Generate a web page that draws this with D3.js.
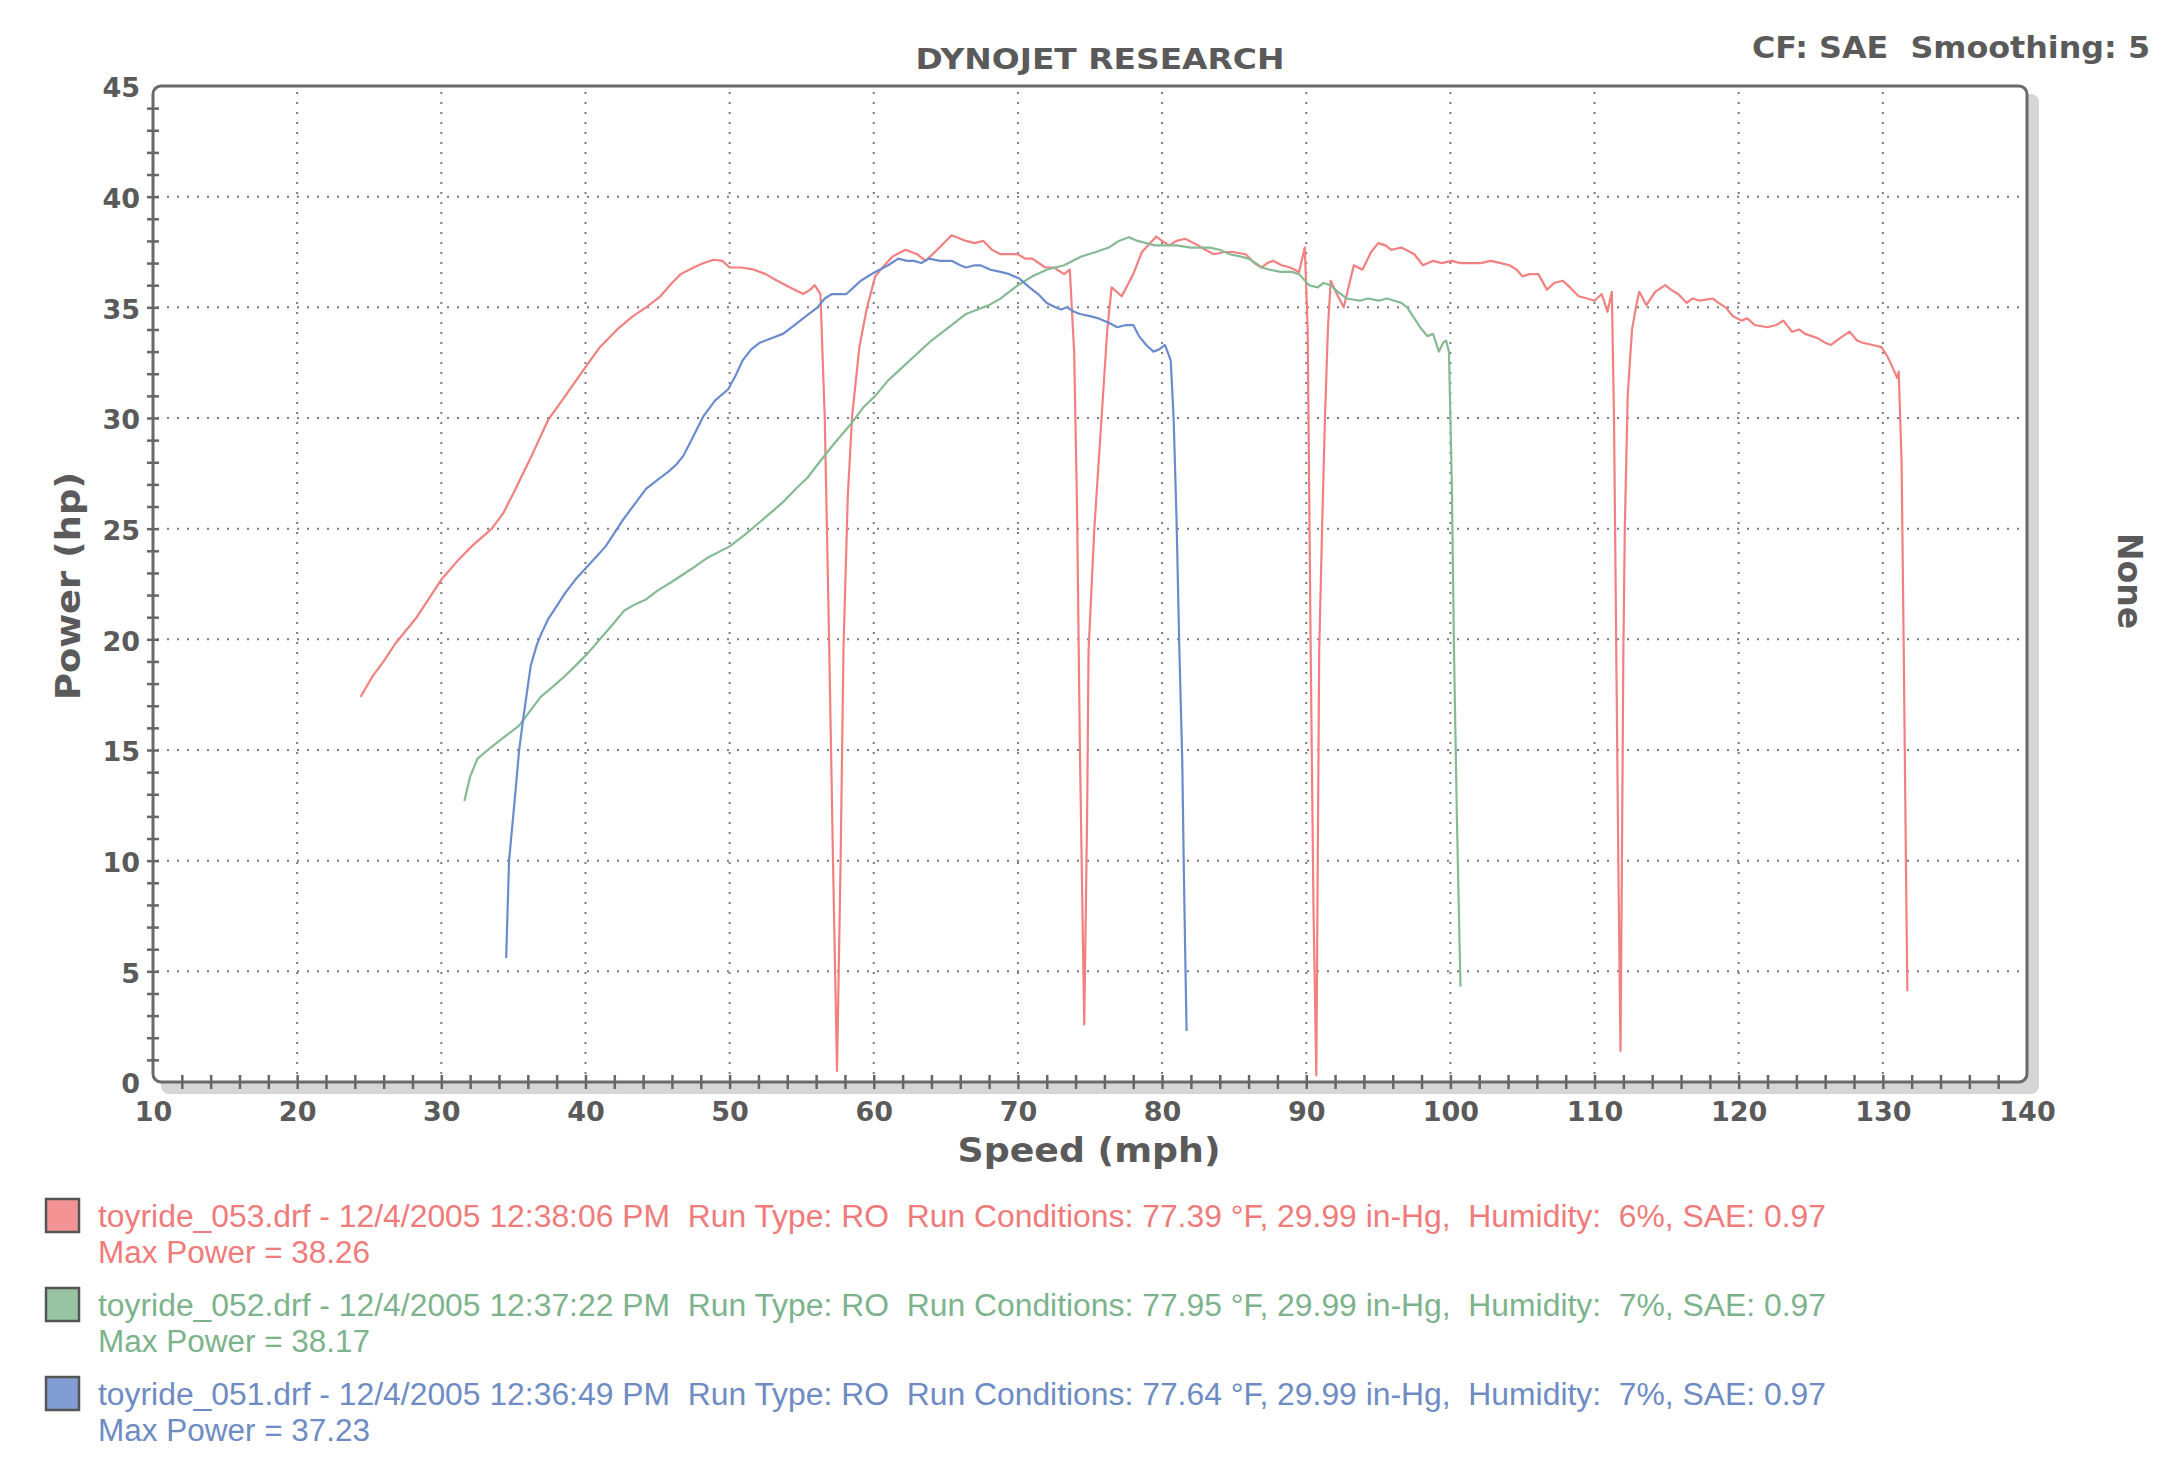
<html>
<head>
<meta charset="utf-8">
<title>Dynojet</title>
<script src="https://d3js.org/d3.v7.min.js"></script>
<style>
  body { margin:0; background:#fff; }
  .lbl { font-family:"DejaVu Sans", Verdana, sans-serif; font-weight:bold; fill:#5a5a5a; }
  .leg { font-family:"Liberation Sans", Arial, sans-serif; font-size:31px; white-space:pre; }
  .grid line { stroke:#7a7a7a; stroke-width:2; stroke-dasharray:2,8; }
</style>
</head>
<body>
<script>
var W = 2176, H = 1466;

// run data [mph, hp]
var run053 = [[24.4,17.4],[25.2,18.3],[26.0,19.0],[26.8,19.8],[28.3,21.0],[30.0,22.7],[31.2,23.6],[32.1,24.2],[33.5,25.0],[34.3,25.7],[35.0,26.6],[36.2,28.2],[37.4,29.9],[38.6,31.0],[40.0,32.3],[41.0,33.2],[42.2,34.0],[43.3,34.6],[44.2,35.0],[45.2,35.5],[46.0,36.1],[46.6,36.5],[47.5,36.8],[48.2,37.0],[48.9,37.15],[49.5,37.1],[50.0,36.8],[50.8,36.8],[51.7,36.7],[52.5,36.5],[53.3,36.2],[54.2,35.9],[55.1,35.6],[55.6,35.8],[55.9,36.0],[56.3,35.6],[56.6,30.0],[56.9,20.0],[57.2,9.0],[57.45,0.5],[57.7,10.0],[57.9,19.6],[58.2,26.5],[58.5,30.1],[59.0,33.2],[59.5,34.9],[60.1,36.4],[60.6,36.8],[61.3,37.3],[62.2,37.6],[63.0,37.4],[63.6,37.1],[64.4,37.6],[65.4,38.26],[66.4,38.0],[67.0,37.9],[67.6,38.0],[68.2,37.6],[68.8,37.4],[69.4,37.4],[70.0,37.4],[70.5,37.2],[71.0,37.2],[71.9,36.8],[72.5,36.8],[73.2,36.5],[73.6,36.7],[73.9,33.0],[74.1,26.0],[74.3,15.0],[74.6,2.6],[74.8,12.0],[74.9,19.5],[75.3,25.0],[75.8,30.0],[76.2,34.0],[76.5,35.9],[77.2,35.5],[77.6,36.0],[78.0,36.5],[78.6,37.5],[79.6,38.2],[80.0,38.0],[80.5,37.8],[81.0,38.0],[81.6,38.1],[82.5,37.8],[83.0,37.6],[83.6,37.4],[84.3,37.5],[84.9,37.5],[85.8,37.4],[86.4,37.0],[86.9,36.8],[87.3,37.0],[87.7,37.1],[88.3,36.9],[88.9,36.8],[89.5,36.6],[89.9,37.7],[90.1,34.0],[90.3,20.0],[90.5,8.0],[90.7,0.3],[90.8,10.0],[90.9,19.5],[91.1,25.0],[91.3,30.0],[91.5,34.0],[91.7,36.2],[92.2,35.5],[92.6,35.0],[93.3,36.9],[93.9,36.7],[94.5,37.5],[95.0,37.9],[95.5,37.8],[95.9,37.6],[96.6,37.7],[97.5,37.4],[98.1,36.9],[98.8,37.1],[99.4,37.0],[100.1,37.1],[100.7,37.0],[101.4,37.0],[102.1,37.0],[102.8,37.1],[103.5,37.0],[104.1,36.9],[104.6,36.7],[105.0,36.4],[105.5,36.5],[106.1,36.5],[106.7,35.8],[107.2,36.1],[107.8,36.2],[108.3,35.9],[108.9,35.5],[109.5,35.4],[110.0,35.3],[110.5,35.6],[110.9,34.8],[111.2,35.7],[111.35,30.0],[111.5,20.0],[111.65,10.0],[111.8,1.4],[111.9,10.0],[112.0,19.5],[112.1,25.0],[112.3,31.0],[112.6,34.0],[112.9,35.1],[113.1,35.7],[113.6,35.1],[114.2,35.7],[114.9,36.0],[115.3,35.8],[115.8,35.6],[116.4,35.2],[116.8,35.4],[117.3,35.3],[118.2,35.4],[118.6,35.2],[119.1,35.0],[119.6,34.6],[120.2,34.4],[120.6,34.5],[121.1,34.2],[122.0,34.1],[122.6,34.2],[123.1,34.4],[123.7,33.9],[124.2,34.0],[124.6,33.8],[125.5,33.6],[126.0,33.4],[126.4,33.3],[127.0,33.6],[127.7,33.9],[128.2,33.5],[128.6,33.4],[129.3,33.3],[129.9,33.2],[130.3,32.8],[130.6,32.4],[131.0,31.8],[131.1,32.1],[131.3,28.0],[131.45,19.5],[131.6,10.0],[131.7,4.1]];

var run052 = [[31.6,12.7],[32.0,13.8],[32.5,14.6],[33.4,15.1],[34.4,15.6],[35.4,16.1],[36.2,16.8],[36.9,17.4],[37.8,17.9],[38.5,18.3],[39.3,18.8],[40.2,19.4],[41.0,20.0],[41.8,20.6],[42.7,21.3],[43.5,21.6],[44.2,21.8],[45.0,22.2],[46.0,22.6],[47.4,23.2],[48.5,23.7],[50.0,24.2],[51.0,24.7],[52.1,25.3],[53.0,25.8],[53.7,26.2],[54.6,26.8],[55.4,27.3],[56.1,27.9],[57.2,28.8],[58.5,29.8],[59.3,30.5],[60.1,31.0],[61.0,31.7],[62.0,32.3],[63.0,32.9],[64.0,33.5],[65.2,34.1],[66.4,34.7],[67.2,34.9],[68.0,35.1],[68.8,35.4],[70.0,36.0],[71.0,36.4],[72.0,36.7],[73.2,36.9],[74.4,37.3],[75.4,37.5],[76.3,37.7],[77.0,38.0],[77.7,38.17],[78.3,38.0],[78.9,37.9],[79.5,37.8],[80.0,37.8],[81.0,37.8],[82.0,37.7],[83.3,37.7],[84.0,37.6],[84.7,37.4],[85.4,37.3],[86.0,37.2],[86.5,37.0],[86.9,36.8],[87.5,36.7],[88.2,36.6],[89.0,36.6],[89.5,36.5],[90.2,36.0],[90.8,35.9],[91.2,36.1],[91.7,36.0],[92.2,35.7],[92.8,35.4],[93.7,35.3],[94.3,35.4],[95.0,35.3],[95.6,35.4],[96.1,35.3],[96.6,35.2],[97.0,35.0],[97.5,34.5],[97.9,34.1],[98.4,33.7],[98.8,33.8],[99.2,33.0],[99.5,33.4],[99.7,33.5],[99.9,33.0],[100.1,27.0],[100.25,19.5],[100.45,12.0],[100.7,4.3]];

var run051 = [[34.5,5.6],[34.7,10.0],[35.1,12.8],[35.4,15.0],[35.7,16.5],[36.2,18.8],[36.6,19.7],[36.9,20.2],[37.4,20.9],[37.8,21.3],[38.6,22.1],[39.3,22.7],[40.0,23.2],[40.7,23.7],[41.4,24.2],[42.0,24.8],[42.6,25.4],[43.4,26.1],[44.2,26.8],[45.0,27.2],[45.8,27.6],[46.3,27.9],[46.8,28.3],[47.5,29.2],[48.2,30.1],[49.0,30.8],[49.9,31.3],[50.4,31.9],[50.9,32.6],[51.5,33.1],[52.1,33.4],[52.9,33.6],[53.7,33.8],[54.3,34.1],[54.9,34.4],[55.5,34.7],[56.1,35.0],[56.6,35.4],[57.1,35.6],[58.1,35.6],[58.6,35.9],[59.1,36.2],[60.1,36.6],[61.0,36.9],[61.7,37.2],[62.3,37.1],[62.8,37.1],[63.3,37.0],[63.8,37.2],[64.6,37.1],[65.4,37.1],[66.0,36.9],[66.4,36.8],[67.0,36.9],[67.4,36.9],[68.1,36.7],[68.8,36.6],[69.4,36.5],[70.1,36.3],[70.8,35.9],[71.4,35.6],[72.0,35.2],[72.6,35.0],[73.0,34.9],[73.4,35.0],[73.9,34.8],[74.3,34.7],[75.0,34.6],[75.6,34.5],[76.3,34.3],[76.9,34.1],[77.5,34.2],[78.0,34.2],[78.4,33.7],[78.9,33.3],[79.4,33.0],[79.8,33.1],[80.2,33.3],[80.6,32.6],[80.8,30.0],[81.0,25.5],[81.2,19.5],[81.4,14.5],[81.5,10.0],[81.6,6.0],[81.7,2.3]];

var xTicks = [10,20,30,40,50,60,70,80,90,100,110,120,130,140];
var yTicks = [0,5,10,15,20,25,30,35,40,45];

var runNames = ["toyride_053.drf - 12/4/2005 12:38:06 PM  Run Type: RO  Run Conditions: 77.39 °F, 29.99 in-Hg,  Humidity:  6%, SAE: 0.97",
                "toyride_052.drf - 12/4/2005 12:37:22 PM  Run Type: RO  Run Conditions: 77.95 °F, 29.99 in-Hg,  Humidity:  7%, SAE: 0.97",
                "toyride_051.drf - 12/4/2005 12:36:49 PM  Run Type: RO  Run Conditions: 77.64 °F, 29.99 in-Hg,  Humidity:  7%, SAE: 0.97"];
var maxPower = ["38.26", "38.17", "37.23"];

var lineColors = ["#f28080", "#86ba94", "#6b8ccc"];
var textColors = ["#ef7b7b", "#7db38c", "#6e8bc3"];

// plot box (window.top is reserved, so plotTop etc.)
var plotLeft = 153, plotRight = 2027, plotTop = 86, plotBottom = 1082;

var x = d3.scaleLinear().domain([10,140]).range([plotLeft,plotRight]);
var y = d3.scaleLinear().domain([0,45]).range([plotBottom,plotTop]);

var svg = d3.select("body").append("svg")
    .attr("width", W)
    .attr("height", H);

// shadow + frame
svg.append("rect")
   .attr("x", plotLeft+8).attr("y", plotTop+8)
   .attr("width", plotRight-plotLeft+4).attr("height", plotBottom-plotTop+4)
   .attr("rx", 8)
   .attr("fill", "#d6d6d6");
svg.append("rect")
   .attr("x", plotLeft).attr("y", plotTop)
   .attr("width", plotRight-plotLeft).attr("height", plotBottom-plotTop)
   .attr("rx", 8)
   .attr("fill", "#fff")
   .attr("stroke", "#6a6a6a")
   .attr("stroke-width", 3);

// dotted grid
svg.append("g").attr("class","grid")
   .selectAll("line").data(xTicks.slice(1,-1)).enter().append("line")
   .attr("x1", function(d){ return x(d); }).attr("x2", function(d){ return x(d); })
   .attr("y1", plotTop+6).attr("y2", plotBottom-4);
svg.append("g").attr("class","grid")
   .selectAll("line").data(yTicks.slice(1,-1)).enter().append("line")
   .attr("y1", function(d){ return y(d); }).attr("y2", function(d){ return y(d); })
   .attr("x1", plotLeft+4).attr("x2", plotRight-6);

// minor ticks that cross the axis lines
var xMinor = svg.append("g")
   .attr("transform","translate(0," + plotBottom + ")")
   .call(d3.axisBottom(x).tickValues(d3.range(12,140,2)).tickFormat("").tickSizeOuter(0));
xMinor.select(".domain").remove();
xMinor.selectAll(".tick line").attr("y1",-7).attr("y2",7).attr("stroke","#666").attr("stroke-width",2.5);

var yMinor = svg.append("g")
   .attr("transform","translate(" + plotLeft + ",0)")
   .call(d3.axisLeft(y).tickValues(d3.range(1,45,1)).tickFormat("").tickSizeOuter(0));
yMinor.select(".domain").remove();
yMinor.selectAll(".tick line").attr("x1",-6).attr("x2",6).attr("stroke","#666").attr("stroke-width",2.5);

// tick labels
var xAxis = svg.append("g")
   .attr("transform","translate(0," + plotBottom + ")")
   .call(d3.axisBottom(x).tickValues(xTicks).tickSize(0).tickPadding(20));
xAxis.select(".domain").remove();
xAxis.selectAll("text").attr("class","lbl").attr("font-size",27).attr("font-family",null);

var yAxis = svg.append("g")
   .attr("transform","translate(" + plotLeft + ",0)")
   .call(d3.axisLeft(y).tickValues(yTicks).tickSize(0).tickPadding(13));
yAxis.select(".domain").remove();
yAxis.selectAll("text").attr("class","lbl").attr("font-size",27).attr("font-family",null).attr("dy","0.4em");

// runs
var line = d3.line()
    .x(function(d){ return x(d[0]); })
    .y(function(d){ return y(d[1]); });

var runs = [run053, run052, run051];
svg.selectAll("path.run")
   .data(runs).enter().append("path")
   .attr("class","run")
   .attr("d", line)
   .attr("fill","none")
   .attr("stroke", function(d,i){ return lineColors[i]; })
   .attr("stroke-width", 2.2)
   .attr("stroke-linejoin","round");

// titles
svg.append("text").attr("class","lbl")
   .attr("x", 1100).attr("y", 69)
   .attr("text-anchor","middle")
   .attr("font-size", 29)
   .attr("textLength", 369).attr("lengthAdjust","spacingAndGlyphs")
   .text("DYNOJET RESEARCH");

svg.append("text").attr("class","lbl")
   .attr("x", 1752).attr("y", 58)
   .attr("font-size", 30)
   .attr("textLength", 398).attr("lengthAdjust","spacingAndGlyphs")
   .style("white-space","pre")
   .text("CF: SAE  Smoothing: 5");

svg.append("text").attr("class","lbl")
   .attr("transform","translate(2118,581) rotate(90)")
   .attr("text-anchor","middle")
   .attr("font-size", 33)
   .text("None");

svg.append("text").attr("class","lbl")
   .attr("transform","translate(80,586) rotate(-90)")
   .attr("text-anchor","middle")
   .attr("font-size", 33)
   .attr("textLength", 228).attr("lengthAdjust","spacingAndGlyphs")
   .text("Power (hp)");

svg.append("text").attr("class","lbl")
   .attr("x", 1089).attr("y", 1162)
   .attr("text-anchor","middle")
   .attr("font-size", 33)
   .attr("textLength", 263).attr("lengthAdjust","spacingAndGlyphs")
   .text("Speed (mph)");

// legend
var legend = svg.selectAll("g.leg")
   .data(runNames).enter().append("g")
   .attr("transform", function(d,i){ return "translate(0," + (i*89) + ")"; });

legend.append("rect")
   .attr("x", 46).attr("y", 1199)
   .attr("width", 33).attr("height", 33)
   .attr("fill", function(d,i){ return lineColors[i]; })
   .attr("fill-opacity", 0.85)
   .attr("stroke", "#555")
   .attr("stroke-width", 2.5);

legend.append("text").attr("class","leg")
   .attr("x", 98).attr("y", 1227)
   .attr("fill", function(d,i){ return textColors[i]; })
   .attr("textLength", 1728).attr("lengthAdjust","spacingAndGlyphs")
   .text(function(d){ return d; });

legend.append("text").attr("class","leg")
   .attr("x", 98).attr("y", 1263)
   .attr("fill", function(d,i){ return textColors[i]; })
   .attr("textLength", 272).attr("lengthAdjust","spacingAndGlyphs")
   .text(function(d,i){ return "Max Power = " + maxPower[i]; });
</script>
</body>
</html>
